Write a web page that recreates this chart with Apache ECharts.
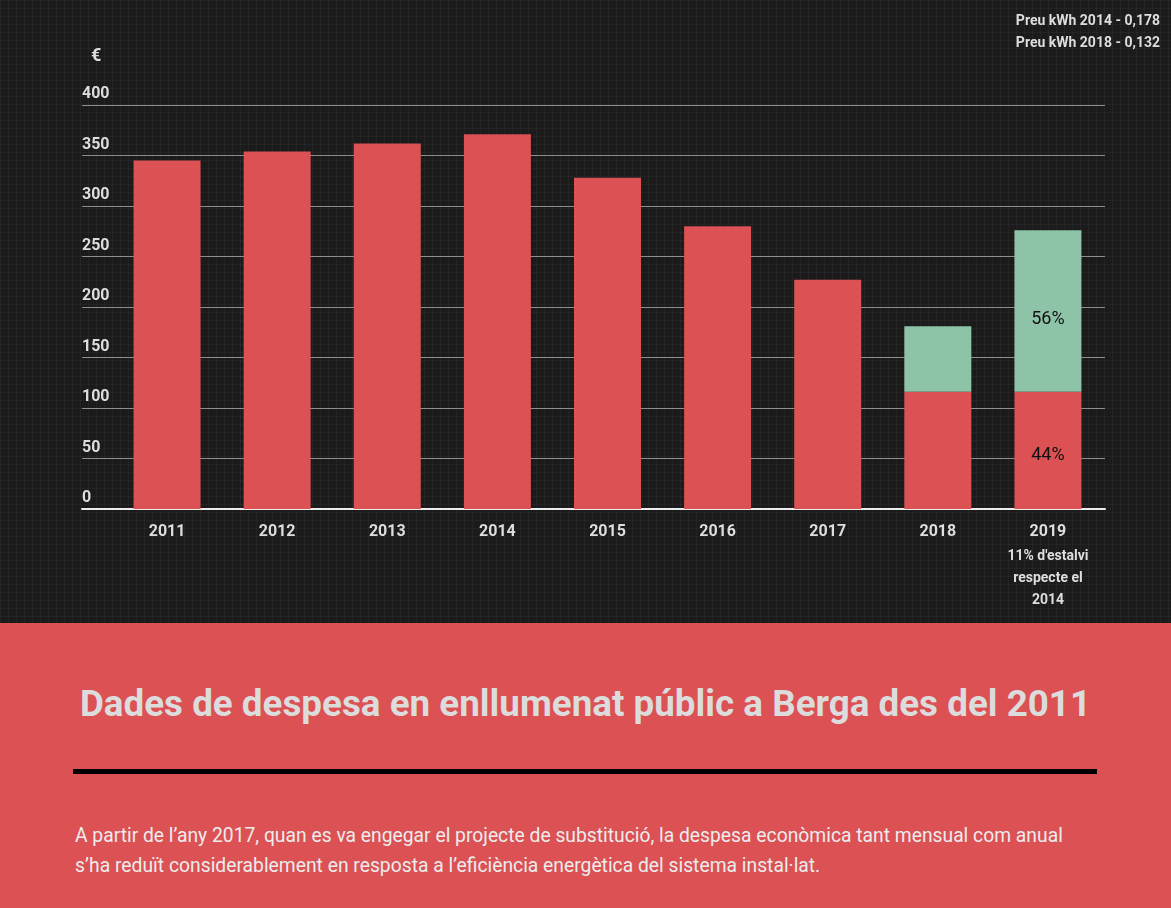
<!DOCTYPE html>
<html>
<head>
<meta charset="utf-8">
<script src="https://cdn.jsdelivr.net/npm/echarts@6/dist/echarts.min.js"></script>
<style>
	html, body { margin: 0; padding: 0; width: 1171px; height: 908px; overflow: hidden; font-family: Roboto, sans-serif; }
	#chart-wrap {
		width: 1171px; height: 623px;
		background-color: #1b1b1b;
		background-image:
			linear-gradient(rgba(255,255,255,0.035) 1px, transparent 1px),
			linear-gradient(90deg, rgba(255,255,255,0.035) 1px, transparent 1px);
		background-size: 8px 8px;
	}
	#chart-container { width: 1171px; height: 623px; }
	#info { position: relative; width: 1171px; height: 285px; background: #db5154; }
	#info h1 {
		position: absolute; left: 0; top: 59px; margin: 0; width: 1171px;
		text-align: center; font-size: 36.8px; font-weight: 700; color: #dcdcdc; line-height: 44px;
	}
	#info .rule { position: absolute; left: 73px; top: 146px; width: 1024px; height: 5px; background: #000; }
	#info p {
		position: absolute; left: 75px; top: 198px; margin: 0;
		font-size: 19.3px; line-height: 30px; color: #ececec; white-space: nowrap;
	}
</style>
</head>
<body>
<div id="chart-wrap"><div id="chart-container"></div></div>
<div id="info">
	<h1>Dades de despesa en enllumenat públic a Berga des del 2011</h1>
	<div class="rule"></div>
	<p>A partir de l’any 2017, quan es va engegar el projecte de substitució, la despesa econòmica tant mensual com anual<br>s’ha reduït considerablement en resposta a l’eficiència energètica del sistema instal·lat.</p>
</div>
<script>
const years = ['2011', '2012', '2013', '2014', '2015', '2016', '2017', '2018', '2019'];
// red part (despesa) and green part (estalvi) of each bar, in €
const spend = [345, 354, 362, 371, 328, 280, 227, 116, 116];
const saving = [null, null, null, null, null, null, null, 65, 160];
const spendLabels = ['', '', '', '', '', '', '', '', '44%'];
const savingLabels = ['', '', '', '', '', '', '', '', '56%'];
const yTicks = [0, 50, 100, 150, 200, 250, 300, 350, 400];
const note2019 = ["11% d'estalvi", 'respecte el', '2014'];
const priceNotes = ['Preu kWh 2014 - 0,178', 'Preu kWh 2018 - 0,132'];

const red = '#db5154';
const green = '#8dc4a8';
const txt = '#dedede';
const labelWeight = 'bold';

const chart = echarts.init(document.getElementById('chart-container'), null, {renderer: 'canvas'});

const withLabels = (vals, labels) => vals.map((v, i) => ({
	value: v,
	label: {show: labels[i] !== '', formatter: labels[i]}
}));

chart.setOption({
	backgroundColor: 'transparent',
	animation: false,
	textStyle: {fontFamily: 'Roboto'},
	grid: [
		{left: 82, right: 66, top: 105, height: 404},
		{left: 112, right: 68, top: 105, height: 404}
	],
	xAxis: [
		{
			gridIndex: 0, type: 'value', min: 0, max: 1,
			axisLine: {show: true, lineStyle: {color: '#ececec', width: 2}},
			axisTick: {show: false}, axisLabel: {show: false}, splitLine: {show: false}
		},
		{
			gridIndex: 1, type: 'category', data: years,
			axisLine: {show: false}, axisTick: {show: false},
			axisLabel: {
				margin: 10,
				interval: 0,
				formatter: (v) => v === '2019'
					? '{y|' + v + '}\n' + note2019.map(s => '{s|' + s + '}').join('\n')
					: '{y|' + v + '}',
				rich: {
					y: {color: txt, fontSize: 16, fontWeight: labelWeight, lineHeight: 26, fontFamily: 'Roboto', align: 'center'},
					s: {color: txt, fontSize: 14, fontWeight: labelWeight, lineHeight: 22, fontFamily: 'Roboto', align: 'center'}
				}
			}
		}
	],
	yAxis: [
		{
			gridIndex: 0, type: 'value', min: yTicks[0], max: yTicks[yTicks.length - 1], interval: 50,
			axisLine: {show: false}, axisTick: {show: false},
			axisLabel: {
				inside: true, margin: 0, align: 'left', verticalAlign: 'bottom',
				padding: [0, 0, 3, 0],
				color: txt, fontSize: 16, fontWeight: labelWeight, fontFamily: 'Roboto',
				formatter: v => String(v)
			},
			splitLine: {lineStyle: {color: '#8e8e8e', width: 1}}
		},
		{
			gridIndex: 1, type: 'value', min: yTicks[0], max: yTicks[yTicks.length - 1],
			show: false, splitLine: {show: false}
		}
	],
	graphic: [
		{type: 'text', left: 91, top: 47, style: {text: '€', fill: txt, font: 'bold 18px Roboto'}},
		{type: 'text', right: 11, top: 10, style: {text: priceNotes.join('\n'), fill: txt, font: 'bold 14px Roboto', lineHeight: 22, align: 'right'}}
	],
	series: [
		{
			name: 'Despesa', type: 'bar', stack: 'total', xAxisIndex: 1, yAxisIndex: 1,
			barWidth: 67, itemStyle: {color: red},
			label: {position: 'inside', color: '#111', fontSize: 18, fontFamily: 'Roboto', offset: [0, 5]},
			data: withLabels(spend, spendLabels)
		},
		{
			name: 'Estalvi', type: 'bar', stack: 'total', xAxisIndex: 1, yAxisIndex: 1,
			barWidth: 67, itemStyle: {color: green},
			label: {position: 'inside', color: '#111', fontSize: 18, fontFamily: 'Roboto', offset: [0, 8]},
			data: withLabels(saving, savingLabels)
		}
	]
});
</script>
</body>
</html>
